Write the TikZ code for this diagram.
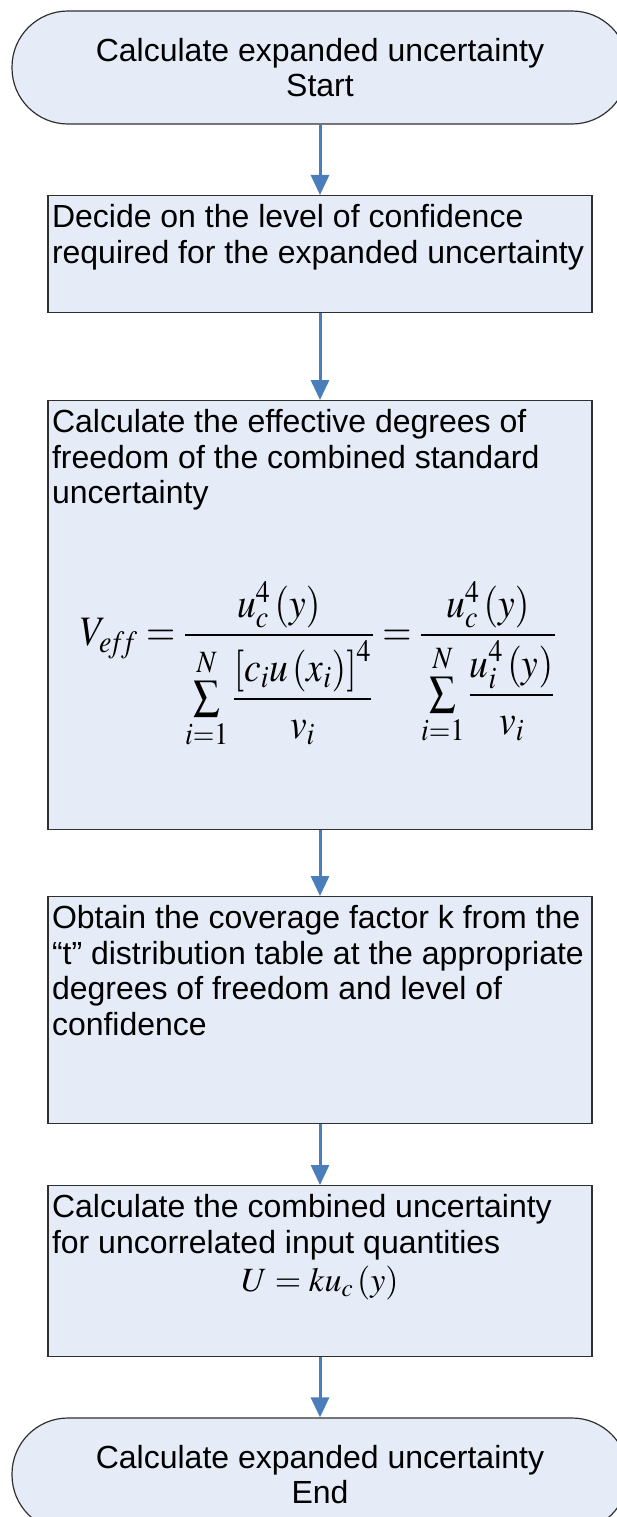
\documentclass[tikz,border=0pt]{standalone}
\usepackage{amsmath}
\usepackage{mathptmx}
\usepackage[no-math]{fontspec}
\setmainfont{Liberation Sans}
\usetikzlibrary{arrows.meta}

\definecolor{boxfill}{HTML}{E6ECF7}
\definecolor{boxline}{HTML}{303030}
\definecolor{flowblue}{HTML}{4A7EBB}

\begin{document}
\begin{tikzpicture}[x=1pt, y=1pt,
        every node/.style={font=\fontsize{32}{35.5}\selectfont},
        terminal/.style={draw=boxline, fill=boxfill, line width=1.2pt, rounded corners=56pt,
            minimum width=616pt, minimum height=113pt, inner sep=0pt, align=center},
        stepbox/.style={draw=boxline, fill=boxfill, line width=1.2pt, anchor=north,
            inner xsep=4pt, inner ysep=0pt},
        flow/.style={draw=flowblue, line width=3pt, -{Triangle[width=18pt,length=20pt]}}]
        \useasboundingbox (0,0) rectangle (616,-1517);

        % Positionen
        \coordinate (S) at (320,-67.5);
        \coordinate (A) at (320,-195);
        \coordinate (B) at (320,-400);
        \coordinate (C) at (320,-896);
        \coordinate (D) at (320,-1185);
        \coordinate (E) at (320,-1474.5);

        % Kaesten
        \node[terminal] (start) at (S) {Calculate expanded uncertainty\\Start};
        \node[stepbox] (decide) at (A) {\begin{minipage}[t][117pt][t]{536pt}\raggedright
            \vspace*{9pt}Decide on the level of confidence\\
            required for the expanded uncertainty\end{minipage}};
        \node[stepbox] (dof) at (B) {\begin{minipage}[t][429pt][t]{536pt}\raggedright
            \vspace*{9pt}Calculate the effective degrees of\\
            freedom of the combined standard\\
            uncertainty\par\vspace{70pt}
            \hspace*{28pt}\resizebox*{476pt}{168pt}{$\displaystyle
                V_{e\!f\!f} = \frac{u_c^4\left(y\right)}{\sum\limits_{i=1}^{N}\dfrac{\left[c_i u\left(x_i\right)\right]^4}{v_i}}
                = \frac{u_c^4\left(y\right)}{\sum\limits_{i=1}^{N}\dfrac{u_i^4\left(y\right)}{v_i}}$}\end{minipage}};
        \node[stepbox] (kfac) at (C) {\begin{minipage}[t][227pt][t]{536pt}\raggedright
            \vspace*{9pt}Obtain the coverage factor k from the\\
            “t” distribution table at the appropriate\\
            degrees of freedom and level of\\
            confidence\end{minipage}};
        \node[stepbox] (expU) at (D) {\begin{minipage}[t][171pt][t]{536pt}\raggedright
            \vspace*{9pt}Calculate the combined uncertainty\\
            for uncorrelated input quantities\par\vspace{2pt}
            {\centering\fontsize{34}{36}\selectfont $U = k u_c\left(y\right)$\par}\end{minipage}};
        \node[terminal] (finish) at (E) {Calculate expanded uncertainty\\End};

        % Pfeile
        \draw[flow] (start) -- (decide);
        \draw[flow] (decide) -- (dof);
        \draw[flow] (dof) -- (kfac);
        \draw[flow] (kfac) -- (expU);
        \draw[flow] (expU) -- (finish);
    \end{tikzpicture}
\end{document}
